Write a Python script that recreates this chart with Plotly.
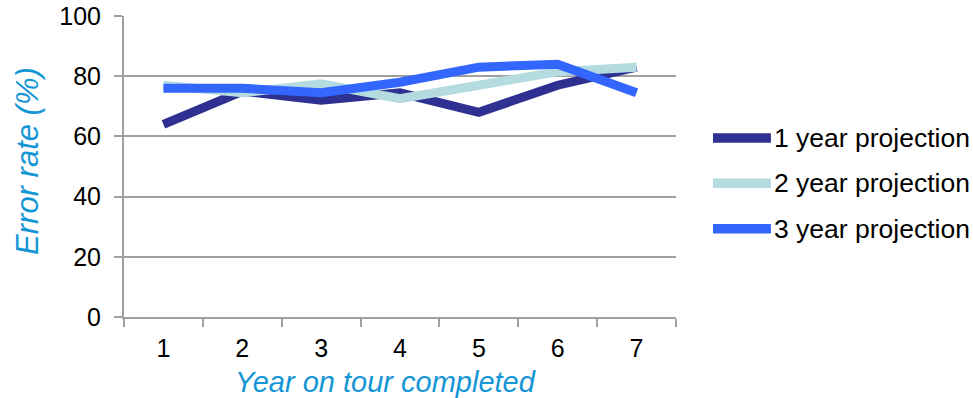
import plotly.graph_objects as go

# Year-on-tour categories and projection error rates (%)
years = ["1", "2", "3", "4", "5", "6", "7"]
one_year = [64, 75, 72, 74.5, 68, 77, 83]
two_year = [77, 74.5, 77.5, 72.5, 77, 81.5, 83]
three_year = [76, 76, 74.5, 78, 83, 84, 74.5]

series_names = ["1 year projection", "2 year projection", "3 year projection"]
series_values = [one_year, two_year, three_year]
series_colors = ["#2E3192", "#B4DCE0", "#3366FF"]

y_ticks = [0, 20, 40, 60, 80, 100]

FONT = "Liberation Sans, Arial, sans-serif"
TITLE_BLUE = "#1496D6"
AXIS_GRAY = "#A0A0A0"

fig = go.Figure()
for name, vals, color in zip(series_names, series_values, series_colors):
    fig.add_trace(go.Scatter(
        x=years, y=vals, name=name, mode="lines",
        line=dict(color=color, width=9),
        showlegend=False,
    ))

# Legend drawn as wide swatches with labels to the right of the plot
legend_top = 0.595
legend_step = 0.151
for i, (name, color) in enumerate(zip(series_names, series_colors)):
    yy = legend_top - i * legend_step
    fig.add_shape(type="line", xref="paper", yref="paper",
                  x0=1.067, x1=1.172, y0=yy, y1=yy,
                  line=dict(color=color, width=9.5))
    fig.add_annotation(xref="paper", yref="paper", x=1.174, y=yy,
                       text=name, showarrow=False, xanchor="left",
                       yanchor="middle",
                       font=dict(family=FONT, size=26.5, color="#000000"))

# Axis titles
fig.add_annotation(xref="paper", yref="paper", x=0.473, y=-0.216,
                   text="<i>Year on tour completed</i>", showarrow=False,
                   xanchor="center", yanchor="middle",
                   font=dict(family=FONT, size=29, color=TITLE_BLUE))
fig.add_annotation(xref="paper", yref="paper", x=-0.176, y=0.518,
                   text="<i>Error rate (%)</i>", showarrow=False,
                   textangle=-90, xanchor="center", yanchor="middle",
                   font=dict(family=FONT, size=31, color=TITLE_BLUE))

fig.update_layout(
    width=973, height=398,
    margin=dict(l=124, r=297, t=16, b=81),
    plot_bgcolor="white", paper_bgcolor="white",
    font=dict(family=FONT, color="#000000"),
)

fig.update_xaxes(
    type="category", range=[-0.5, 6.5], automargin=False,
    tickson="boundaries", ticks="outside", ticklen=8,
    tickcolor=AXIS_GRAY, tickwidth=2,
    showline=True, linecolor=AXIS_GRAY, linewidth=2,
    showgrid=False, zeroline=False,
    tickfont=dict(family=FONT, size=25, color="#000000"),
    ticklabelstandoff=8,
)

fig.update_yaxes(
    range=[0, 100], tickvals=y_ticks, ticks="outside", ticklen=8,
    automargin=False,
    tickcolor=AXIS_GRAY, tickwidth=2,
    showline=True, linecolor=AXIS_GRAY, linewidth=2,
    showgrid=True, gridcolor=AXIS_GRAY, gridwidth=2,
    zeroline=False,
    tickfont=dict(family=FONT, size=25, color="#000000"),
    ticklabelstandoff=8,
)

fig.write_html("out.html")
